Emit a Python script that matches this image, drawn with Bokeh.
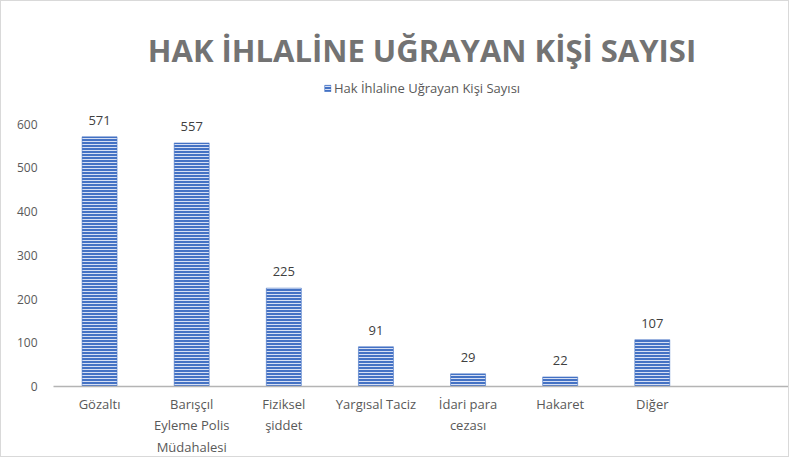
from bokeh.plotting import figure
from bokeh.models import (ColumnDataSource, Range1d, FixedTicker, LabelSet, Legend,
                          LegendItem, Title)
from bokeh.core.properties import value
from bokeh.embed import file_html
from bokeh.resources import INLINE

title_text = "HAK İHLALİNE UĞRAYAN KİŞİ SAYISI"
series_name = "Hak İhlaline Uğrayan Kişi Sayısı"
categories = ["Gözaltı", "Barışçıl Eyleme Polis Müdahalesi", "Fiziksel şiddet",
              "Yargısal Taciz", "İdari para cezası", "Hakaret", "Diğer"]
tick_labels = ["Gözaltı", "Barışçıl\nEyleme Polis\nMüdahalesi", "Fiziksel\nşiddet",
               "Yargısal Taciz", "İdari para\ncezası", "Hakaret", "Diğer"]
values = [571, 557, 225, 91, 29, 22, 107]
y_ticks = [0, 100, 200, 300, 400, 500, 600]
n_slots = 8  # one empty slot on the right, as in the original

FONT = "Open Sans"
TXT = "#595959"

xs = [i + 0.5 for i in range(len(categories))]
src = ColumnDataSource(dict(x=xs, top=values, label=[str(v) for v in values], cat=categories))

p = figure(width=789, height=457, output_backend="svg", toolbar_location=None,
           x_range=Range1d(0, n_slots), y_range=Range1d(0, 702),
           min_border_left=52, min_border_right=0, min_border_bottom=68, min_border_top=78)
p.styles = {"border": "1px solid #d9d9d9"}
p.outline_line_color = None
p.xgrid.grid_line_color = None
p.ygrid.grid_line_color = None
p.background_fill_color = "white"
p.border_fill_color = "white"

bars = p.vbar(x="x", top="top", width=0.38, bottom=0, source=src,
              fill_color="#4472C4", line_color="#4472C4", line_width=0.5,
              hatch_pattern="horizontal_line", hatch_color="#d6dff4",
              hatch_scale=3, hatch_weight=1)

labels = LabelSet(x="x", y="top", text="label", source=src, y_offset=12,
                  text_align="center", text_baseline="bottom",
                  text_font=value(FONT), text_font_size=value("13px"), text_color=value("#404040"))
p.add_layout(labels)

# y axis
p.yaxis.ticker = FixedTicker(ticks=y_ticks)
p.yaxis.axis_line_color = None
p.yaxis.major_tick_line_color = None
p.yaxis.minor_tick_line_color = None
p.yaxis.major_label_text_font = FONT
p.yaxis.major_label_text_font_size = "12px"
p.yaxis.major_label_text_color = TXT
p.yaxis.major_label_standoff = 10

# x axis
p.xaxis.ticker = FixedTicker(ticks=xs)
p.xaxis.major_label_overrides = {x: lab for x, lab in zip(xs, tick_labels)}
p.xaxis.axis_line_color = "#b4b4b4"
p.xaxis.axis_line_width = 1.5
p.xaxis.major_tick_line_color = None
p.xaxis.minor_tick_line_color = None
p.xaxis.major_label_text_font = FONT
p.xaxis.major_label_text_font_size = "13px"
p.xaxis.major_label_text_color = TXT
p.xaxis.major_label_standoff = 2

legend = Legend(items=[LegendItem(label=series_name, renderers=[bars])],
                orientation="horizontal", location="top_center",
                label_text_font=FONT, label_text_font_size="13px", label_text_color=TXT,
                glyph_width=8, glyph_height=8, label_standoff=3,
                border_line_color=None, background_fill_alpha=0,
                padding=0, margin=0)
p.add_layout(legend)

p.title = Title(text=title_text, align="center", text_font=FONT, text_font_size="31px",
                text_font_style="bold", text_color="#737373", standoff=17)

open("out.html", "w").write(file_html(p, INLINE))
